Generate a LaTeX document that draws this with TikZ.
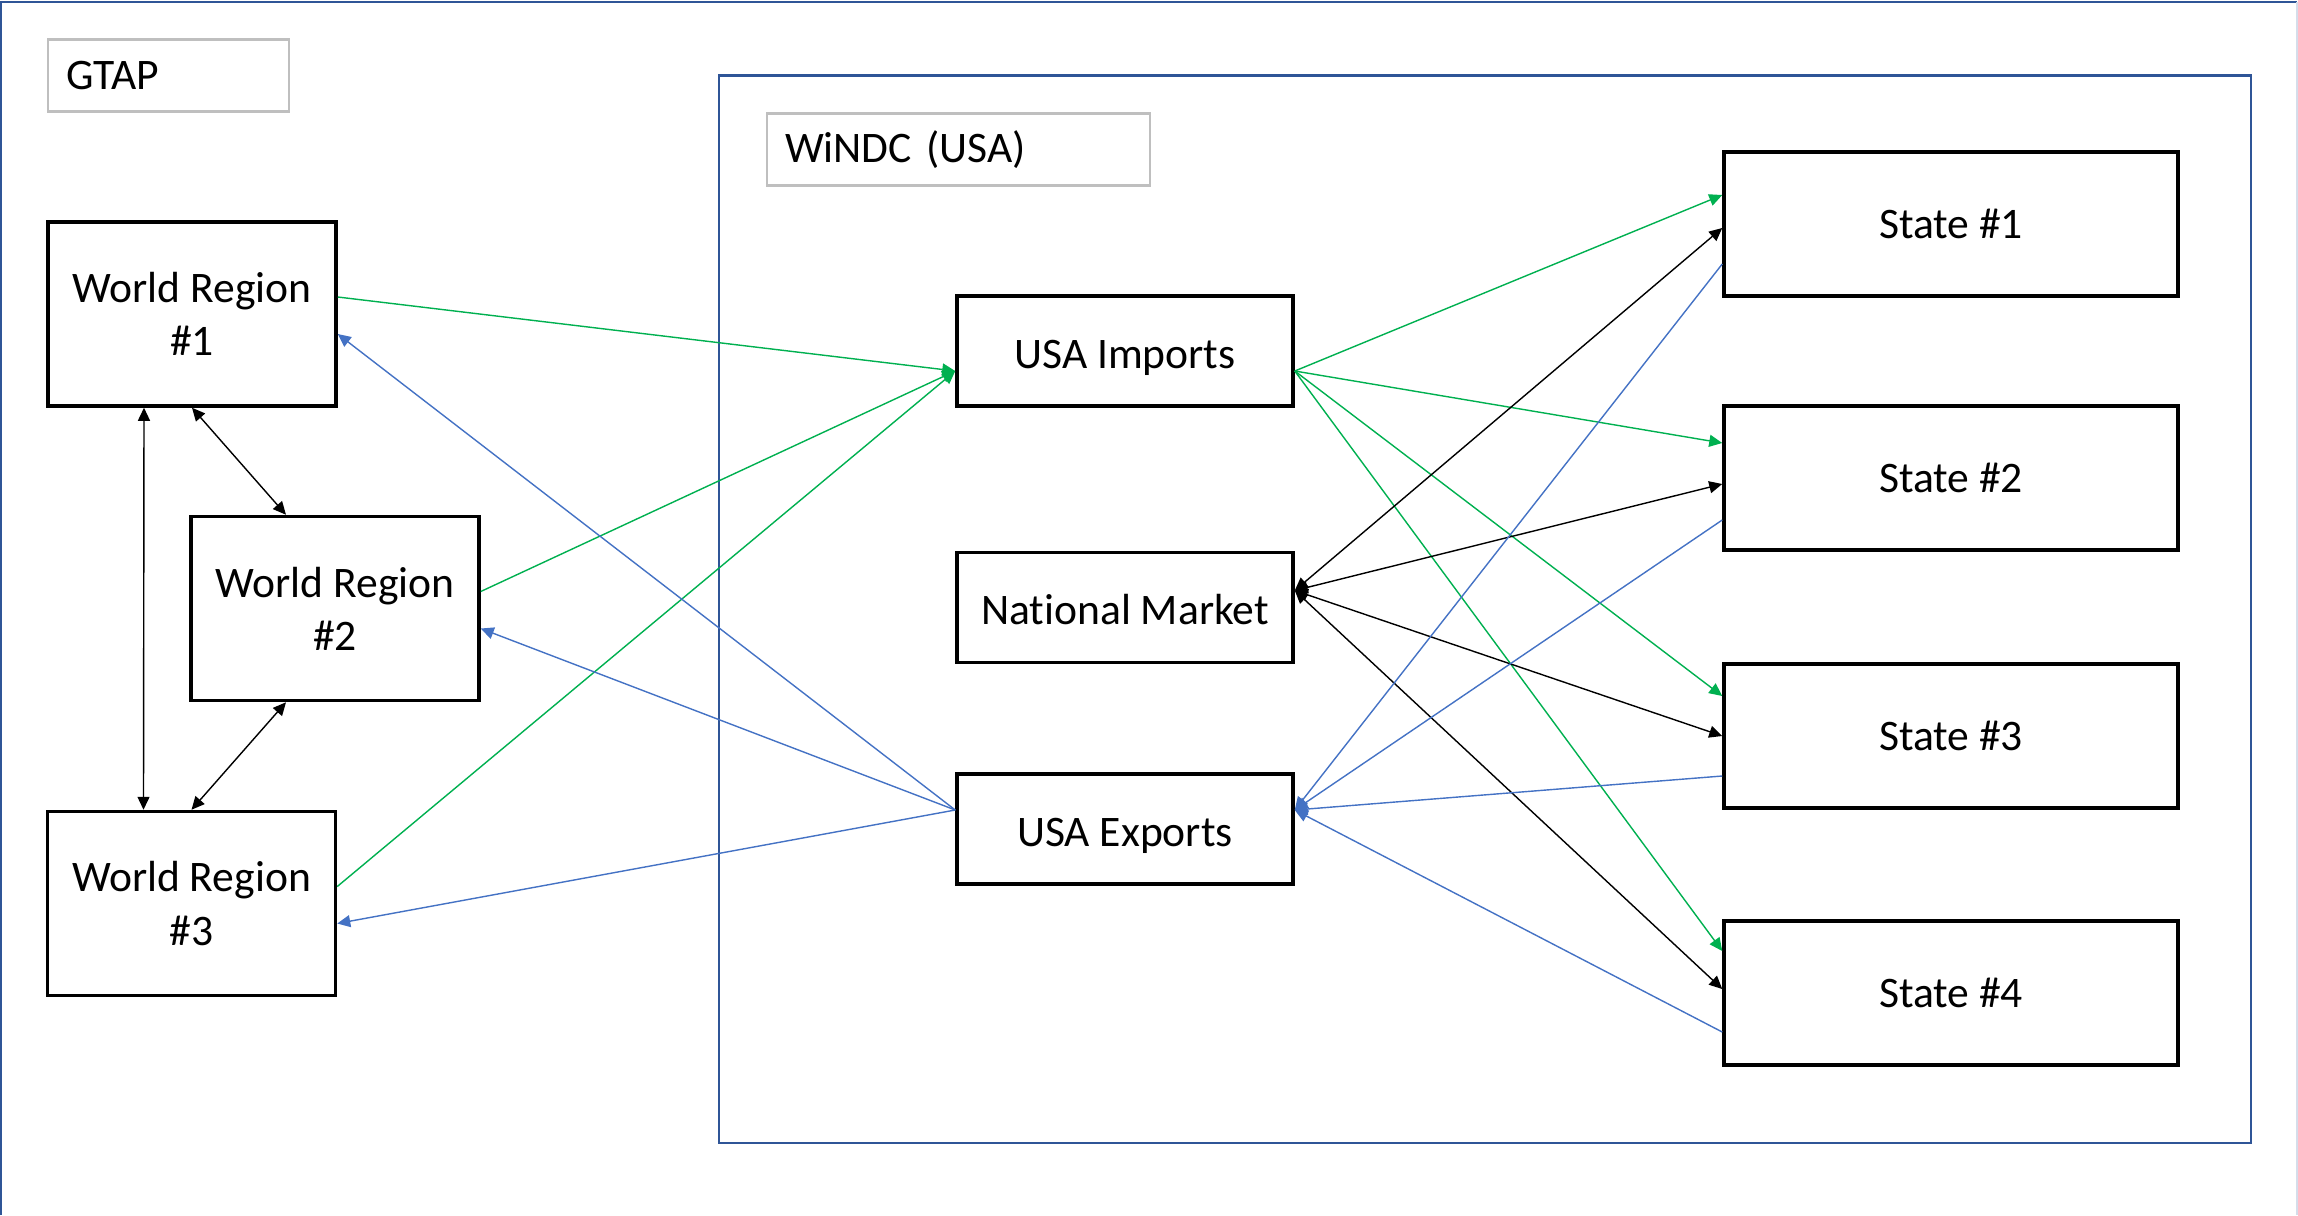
\documentclass[tikz,border=0pt]{standalone}
\usepackage{fontspec}
\setmainfont{Carlito}[Ligatures=NoCommon]
\usetikzlibrary{arrows.meta}

\definecolor{framecol}{RGB}{47,85,151}
\definecolor{impcol}{RGB}{0,176,80}
\definecolor{expcol}{RGB}{68,114,196}
\definecolor{tagcol}{RGB}{191,191,191}

\begin{document}
\begin{tikzpicture}
[>={Triangle[length=0.13cm,width=0.12cm]},
box/.style={draw, line width=1pt, align=center,
  font=\fontsize{12.4}{15.1}\selectfont},
region/.style={box, minimum width=2.88cm, minimum height=1.84cm},
usa/.style={box, minimum width=3.36cm, minimum height=1.1cm,
  text height=0.42cm, text depth=0.08cm},
state/.style={box, minimum width=4.54cm, minimum height=1.44cm},
tag/.style={draw=tagcol, line width=0.6pt, align=left, inner xsep=0.18cm,
  minimum height=0.72cm, font=\fontsize{12.4}{15.1}\selectfont},
impflow/.style={->, impcol, line width=0.4pt},
expflow/.style={->, expcol, line width=0.4pt},
mktflow/.style={<->, line width=0.4pt}]
  \useasboundingbox (0,0) rectangle (22.98,-12.15);
  % frames
  \draw [framecol, line width=0.7pt] (0.01,-12.15) -- (0.01,-0.02) -- (22.97,-0.02);
  \draw [framecol!20, line width=0.5pt] (22.97,-0.02) -- (22.97,-12.15);
  \draw [framecol, line width=0.7pt] (7.19,-0.755) rectangle (22.51,-11.43);
  \node [tag, text width=2.05cm] (gtap) at (1.685,-0.755) {GTAP};
  \node [tag, text width=3.47cm] (windc) at (9.585,-1.495) {WiNDC (USA)};
  % world regions
  \node [region] (wr1) at (1.92,-3.14) {World Region\\\#1};
  \node [region] (wr2) at (3.35,-6.085) {World Region\\\#2};
  \node [region] (wr3) at (1.915,-9.035) {World Region\\\#3};
  % usa
  \node [usa] (imp) at (11.25,-3.51) {USA Imports};
  \node [usa] (mkt) at (11.25,-6.075) {National Market};
  \node [usa] (exp) at (11.25,-8.29) {USA Exports};
  % states
  \node [state] (st1) at (19.51,-2.24) {State \#1};
  \node [state] (st2) at (19.51,-4.78) {State \#2};
  \node [state] (st3) at (19.51,-7.36) {State \#3};
  \node [state] (st4) at (19.51,-9.93) {State \#4};
  % trade between regions
  \draw [mktflow] ([xshift=-0.48cm]wr1.south) -- ([xshift=-0.48cm]wr3.north);
  \draw [mktflow] (wr1.south) -- ([xshift=-0.49cm]wr2.north);
  \draw [mktflow] ([xshift=-0.49cm]wr2.south) -- (wr3.north);
  % imports
  \draw [impflow] ([yshift=0.17cm]wr1.east) -- ([yshift=-0.2cm]imp.west);
  \draw [impflow] ([yshift=0.17cm]wr2.east) -- ([yshift=-0.2cm]imp.west);
  \draw [impflow] ([yshift=0.17cm]wr3.east) -- ([yshift=-0.2cm]imp.west);
  \draw [impflow] ([yshift=-0.2cm]imp.east) -- ([yshift=0.29cm]st1.west);
  \draw [impflow] ([yshift=-0.2cm]imp.east) -- ([yshift=0.35cm]st2.west);
  \draw [impflow] ([yshift=-0.2cm]imp.east) -- ([yshift=0.4cm]st3.west);
  \draw [impflow] ([yshift=-0.2cm]imp.east) -- ([yshift=0.42cm]st4.west);
  % national market
  \draw [mktflow] ([yshift=0.17cm]mkt.east) -- ([yshift=-0.04cm]st1.west);
  \draw [mktflow] ([yshift=0.17cm]mkt.east) -- ([yshift=-0.06cm]st2.west);
  \draw [mktflow] ([yshift=0.17cm]mkt.east) -- (st3.west);
  \draw [mktflow] ([yshift=0.17cm]mkt.east) -- ([yshift=0.04cm]st4.west);
  % exports
  \draw [expflow] ([yshift=-0.4cm]st1.west) -- ([yshift=0.19cm]exp.east);
  \draw [expflow] ([yshift=-0.42cm]st2.west) -- ([yshift=0.19cm]exp.east);
  \draw [expflow] ([yshift=-0.4cm]st3.west) -- ([yshift=0.19cm]exp.east);
  \draw [expflow] ([yshift=-0.39cm]st4.west) -- ([yshift=0.19cm]exp.east);
  \draw [expflow] ([yshift=0.19cm]exp.west) -- ([yshift=-0.2cm]wr1.east);
  \draw [expflow] ([yshift=0.19cm]exp.west) -- ([yshift=-0.2cm]wr2.east);
  \draw [expflow] ([yshift=0.19cm]exp.west) -- ([yshift=-0.2cm]wr3.east);
\end{tikzpicture}
\end{document}
